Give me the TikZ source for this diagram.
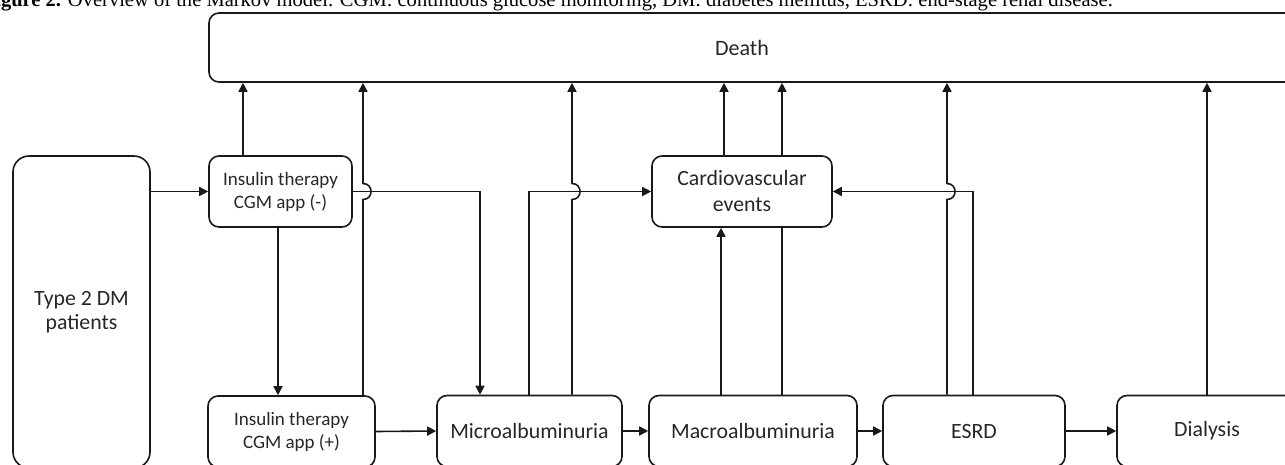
\documentclass[tikz,border=0pt]{standalone}
\usepackage{fontspec}
\setmainfont{Carlito}
\newfontfamily\capfont{Liberation Serif}
\usetikzlibrary{arrows.meta}
\begin{document}
\begin{tikzpicture}[x=1pt,y=-1pt,
  box/.style={draw=black!90, line width=1.6pt, rounded corners=10pt, inner sep=0pt, align=center, text=black!85},
  conn/.style={draw=black!90, line width=1.6pt},
  arr/.style={conn, -{Triangle[length=9pt,width=9pt]}},
  bigtxt/.style={font=\fontsize{21.8}{26}\selectfont},
  smalltxt/.style={font=\fontsize{19}{23}\selectfont}]
\useasboundingbox (0,0) rectangle (1285,464);
\clip (0,0) rectangle (1285,464);

% caption (cut at top)
\node[anchor=base east, inner sep=0pt] (cap) at (1113,6)
  {\resizebox{1130pt}{!}{\capfont\fontsize{19}{22}\selectfont\textbf{Figure 2.} Overview of the Markov model. CGM: continuous glucose monitoring, DM: diabetes mellitus, ESRD: end-stage renal disease.}};

% nodes
\node[box, minimum width=1091pt, minimum height=69pt, font=\fontsize{22}{26}\selectfont] (death) at (754.5,47.5) {Death\hspace{25pt}};
\node[box, rounded corners=16pt, minimum width=137pt, minimum height=312pt, bigtxt] (t2dm) at (81.5,312) {\raisebox{-6pt}{\shortstack{Type 2 DM\\[2pt]patients}}};
\node[box, smalltxt, minimum width=143pt, minimum height=71pt] (insm) at (280.5,191.5) {Insulin therapy\\CGM app (-)};
\node[box, smalltxt, minimum width=167pt, minimum height=71pt] (insp) at (291.5,431.5) {Insulin therapy\\CGM app (+)};
\node[box, bigtxt, minimum width=185pt, minimum height=71pt] (micro) at (529.5,431) {Microalbuminuria};
\node[box, bigtxt, minimum width=180pt, minimum height=71pt] (cardio) at (742,191.5) {Cardiovascular\\events};
\node[box, bigtxt, minimum width=208pt, minimum height=71pt] (macro) at (753,431) {Macroalbuminuria};
\node[box, bigtxt, minimum width=182pt, minimum height=71pt] (esrd) at (974,431) {ESRD};
\node[box, bigtxt, minimum width=180pt, minimum height=71pt] (dialysis) at (1207,431) {Dialysis};

% x positions of vertical connectors
\coordinate (x243) at (243,0);
\coordinate (x278) at (278,0);
\coordinate (x363) at (363,0);
\coordinate (x480) at (480,0);
\coordinate (x529) at (529,0);
\coordinate (x572) at (572,0);
\coordinate (x721) at (721,0);
\coordinate (x724) at (724,0);
\coordinate (x782) at (782,0);
\coordinate (x947) at (947,0);
\coordinate (x973) at (973,0);
\coordinate (x1207) at (1207,0);

% connectors
\draw[arr] (t2dm.east |- insm.west) -- (insm.west);
\draw[arr] (x243 |- insm.north) -- (x243 |- death.south);
\draw[arr] (x363 |- insp.north) -- (363,199.5) .. controls (373.7,199.5) and (373.7,183.5) .. (363,183.5) -- (x363 |- death.south);
\draw[arr] (x278 |- insm.south) -- (x278 |- insp.north);
\draw[arr] (insm.east) -| (x480 |- micro.north);
\draw[arr] (insp.east) -- (micro.west);
\draw[arr] (x529 |- micro.north) |- (cardio.west);
\draw[arr] (x572 |- micro.north) -- (572,199.5) .. controls (582.7,199.5) and (582.7,183.5) .. (572,183.5) -- (x572 |- death.south);
\draw[arr] (micro.east) -- (macro.west);
\draw[arr] (x721 |- macro.north) -- (x721 |- cardio.south);
\draw[conn] (x782 |- macro.north) -- (x782 |- cardio.south);
\draw[arr] (x782 |- cardio.north) -- (x782 |- death.south);
\draw[arr] (x724 |- cardio.north) -- (x724 |- death.south);
\draw[arr] (macro.east) -- (esrd.west);
\draw[arr] (x973 |- esrd.north) |- (cardio.east);
\draw[arr] (x947 |- esrd.north) -- (947,199.5) .. controls (957.7,199.5) and (957.7,183.5) .. (947,183.5) -- (x947 |- death.south);
\draw[arr] (esrd.east) -- (dialysis.west);
\draw[arr] (x1207 |- dialysis.north) -- (x1207 |- death.south);
\end{tikzpicture}
\end{document}
